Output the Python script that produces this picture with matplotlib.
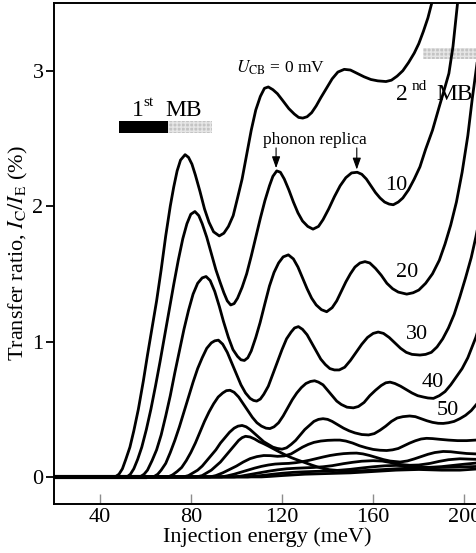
import numpy as np
import matplotlib
matplotlib.use('Agg')
import matplotlib.pyplot as plt

plt.rcParams['font.family'] = ['Liberation Serif', 'DejaVu Serif']
plt.rcParams['mathtext.fontset'] = 'stix'

# injection energy (meV) / transfer ratio (%), one pair per U_CB
e_u0 = [20, 46.8, 48.5, 50, 51.5, 53.3, 55, 57, 59.2, 61, 63, 65, 67, 69, 71, 72.5, 74, 75.5, 77.5,
        79, 80.5, 82, 84, 86, 88, 90, 92.5, 94.5, 96.5, 98.6, 100.5, 102.5, 104.5, 106.5, 108.5,
        110.5, 112.3, 114, 116, 118, 120.3, 123, 125.4, 127.3, 129.1, 131, 133, 135, 137, 139.5,
        142, 144.5, 147.3, 150, 153, 156, 159, 162, 165.6, 168, 170.5, 173, 175.5, 178, 180, 182,
        184, 186, 187.5]
t_u0 = [0, 0, 0.02, 0.06, 0.13, 0.22, 0.34, 0.5, 0.71, 0.9, 1.1, 1.3, 1.53, 1.78, 2.0, 2.14, 2.26, 2.34, 2.38,
        2.36, 2.31, 2.23, 2.11, 1.98, 1.88, 1.81, 1.78, 1.8, 1.85, 1.93, 2.06, 2.2, 2.38, 2.56, 2.71,
        2.81, 2.87, 2.88, 2.86, 2.83, 2.78, 2.72, 2.68, 2.655, 2.65, 2.66, 2.69, 2.74, 2.8, 2.87,
        2.94, 2.99, 3.01, 3.005, 2.98, 2.955, 2.935, 2.925, 2.92, 2.93, 2.96, 3.0, 3.06, 3.13, 3.2, 3.29,
        3.39, 3.52, 3.62]

e_u10 = [20, 52, 53.5, 55, 56.7, 58.5, 60.5, 62.5, 64.5, 66.5, 68.5, 70.5, 72.5, 74.5, 76.5, 78.3, 80,
         81.8, 83.5, 85, 87, 89, 91, 92.8, 94.5, 96, 97.5, 99, 100.5, 102.5, 104.5, 106.5, 108.5,
         110.5, 112.5, 114.5, 116, 117.7, 119.3, 121, 123, 125, 127, 129, 131.3, 133.6, 136, 138,
         140.5, 143, 145.5, 148, 150.5, 153, 155, 157, 159, 161, 163, 165, 167, 168.8, 171, 173,
         175.5, 178, 180.5, 183, 186, 188.9, 191, 193.2, 195, 197, 198]
t_u10 = [0, 0, 0.02, 0.06, 0.13, 0.22, 0.35, 0.5, 0.67, 0.85, 1.04, 1.23, 1.42, 1.6, 1.76, 1.87, 1.94,
         1.96, 1.93, 1.87, 1.77, 1.65, 1.53, 1.44, 1.36, 1.3, 1.27, 1.28, 1.32, 1.4, 1.5, 1.63, 1.77,
         1.91, 2.04, 2.15, 2.22, 2.26, 2.25, 2.2, 2.12, 2.03, 1.95, 1.89, 1.85, 1.83, 1.85, 1.9,
         1.98, 2.07, 2.15, 2.21, 2.245, 2.25, 2.235, 2.2, 2.15, 2.1, 2.06, 2.03, 2.015, 2.01, 2.03, 2.06,
         2.12, 2.2, 2.29, 2.42, 2.56, 2.73, 2.85, 2.98, 3.18, 3.5, 3.62]

e_u20 = [20, 57.7, 59.5, 61, 63, 65, 67, 69, 71, 73, 75, 77, 79, 81, 83, 85, 86.7, 88.5, 90.5, 92.5,
         94.3, 96.5, 98.5, 100.5, 102, 103.5, 105, 106.5, 108.5, 110.4, 112.5, 114.5, 116.5, 118.5,
         120.5, 122.8, 125, 127, 129, 131, 133, 135, 137.3, 139.6, 142, 144, 146, 148, 150, 152,
         154.2, 156.4, 158.5, 161, 163.5, 166, 168.5, 171, 174.7, 177.5, 180, 183, 186, 189, 191.5,
         194, 196.5, 199, 201.5, 203.5, 205.5, 208, 210]
t_u20 = [0, 0, 0.02, 0.05, 0.12, 0.2, 0.31, 0.45, 0.6, 0.77, 0.93, 1.09, 1.23, 1.35, 1.43, 1.47, 1.48, 1.45, 1.37, 1.26,
         1.15, 1.03, 0.94, 0.89, 0.865, 0.86, 0.88, 0.93, 1.03, 1.14, 1.28, 1.41, 1.51, 1.58,
         1.625, 1.64, 1.61, 1.55, 1.47, 1.39, 1.32, 1.27, 1.235, 1.22, 1.25, 1.3, 1.37, 1.44, 1.5, 1.55,
         1.58, 1.59, 1.58, 1.54, 1.49, 1.43, 1.39, 1.365, 1.35, 1.36, 1.38, 1.43, 1.5, 1.6, 1.72,
         1.86, 2.03, 2.25, 2.52, 2.8, 3.05, 3.4, 3.7]

e_u30 = [20, 63.6, 65.5, 67, 69, 71, 73, 75, 77, 79, 81, 83, 85, 87, 89, 90.5, 92.1, 94, 96, 98, 100,
         102, 104, 106, 107.5, 108.9, 110.5, 112, 114, 116, 118, 120, 122, 124, 125.5, 127.2, 129,
         131, 133, 135, 137, 139, 141, 143, 145.1, 147.5, 150, 152.5, 155, 157.5, 160, 162.2, 164.5,
         167, 169.5, 172, 174.5, 177, 180.5, 183, 185.5, 188, 190.5, 193, 195.5, 198, 200.5, 203,
         205, 207.5, 210]
t_u30 = [0, 0, 0.02, 0.05, 0.1, 0.18, 0.27, 0.37, 0.48, 0.59, 0.7, 0.8, 0.88, 0.95, 0.99, 1.005, 1.01, 0.98, 0.92, 0.84, 0.76,
         0.68, 0.62, 0.58, 0.565, 0.56, 0.575, 0.61, 0.67, 0.76, 0.85, 0.94, 1.02, 1.07, 1.1, 1.11, 1.09,
         1.05, 0.99, 0.93, 0.87, 0.83, 0.8, 0.79, 0.79, 0.81, 0.86, 0.92, 0.98, 1.03, 1.06, 1.07, 1.06,
         1.03, 0.99, 0.95, 0.92, 0.905, 0.9, 0.905, 0.92, 0.96, 1.02, 1.1, 1.2, 1.33, 1.47, 1.62,
         1.77, 1.98, 2.2]

e_u40 = [20, 70, 72, 74, 76, 78, 80, 82, 84, 86, 88, 90, 92, 94, 95.6, 97.2, 99, 101, 103, 105, 107,
         109, 111, 113, 114.7, 116.5, 118.5, 120.5, 122.5, 124.5, 126.5, 128.5, 130.5, 132.5, 134.3,
         136, 138, 140, 142, 144, 146, 148.5, 151.3, 153.5, 156, 158.5, 161, 163.5, 165.5, 167.4,
         169.5, 172, 174.5, 177, 179.5, 182, 184, 186.4, 189, 191.5, 194, 196.5, 199, 201.5, 205, 210]
t_u40 = [0, 0, 0.015, 0.04, 0.07, 0.12, 0.18, 0.25, 0.33, 0.41, 0.48, 0.54, 0.59, 0.62, 0.637, 0.64, 0.625, 0.59, 0.54, 0.49, 0.44,
         0.4, 0.375, 0.36, 0.357, 0.37, 0.4, 0.45, 0.51, 0.57, 0.62, 0.66, 0.69, 0.705, 0.71,
         0.7, 0.68, 0.64, 0.6, 0.56, 0.535, 0.515, 0.51, 0.52, 0.55, 0.6, 0.64, 0.675, 0.695, 0.7,
         0.69, 0.67, 0.645, 0.62, 0.6, 0.59, 0.583, 0.58, 0.6, 0.63, 0.68, 0.74, 0.8, 0.88, 1.03, 1.3]

e_u50 = [20, 76.7, 79, 81, 83, 85, 87, 89, 91, 93, 95, 97, 99, 100.7, 102.5, 104.3, 106, 108, 110,
         112, 114, 116, 118, 120, 122, 124, 126, 128, 130, 132, 134, 136, 138, 140, 142, 144.5, 147,
         149.5, 152, 155, 158, 160.5, 163, 165.5, 168, 170.5, 173, 176, 178.5, 181, 183.5, 186,
         188.5, 190.7, 193, 195.5, 198, 200.5, 203, 205, 210]
t_u50 = [0, 0, 0.01, 0.03, 0.05, 0.08, 0.12, 0.16, 0.2, 0.25, 0.29, 0.33, 0.36, 0.375, 0.38, 0.37, 0.35, 0.32, 0.29,
         0.26, 0.24, 0.22, 0.21, 0.205, 0.215, 0.24, 0.27, 0.31, 0.35, 0.38, 0.41, 0.425, 0.43, 0.425, 0.41, 0.385, 0.36,
         0.34, 0.325, 0.313, 0.31, 0.32, 0.345, 0.375, 0.41, 0.435, 0.445, 0.45, 0.445, 0.43, 0.415, 0.403,
         0.396, 0.395, 0.4, 0.41, 0.43, 0.455, 0.49, 0.53, 0.63]

e_u60 = [20, 82.5, 85, 87, 89, 91, 93, 95, 97, 99, 101, 102.5, 104, 106, 108, 110, 112, 114, 116,
         118, 120, 122, 124, 126, 128, 130.5, 133, 135.5, 138, 141, 145, 150, 155, 160, 165, 170,
         175, 180, 185, 190, 195, 200, 210]
t_u60 = [0, 0, 0.01, 0.03, 0.05, 0.08, 0.11, 0.15, 0.19, 0.23, 0.27, 0.29, 0.3, 0.295, 0.28, 0.26, 0.245, 0.228, 0.21,
         0.192, 0.175, 0.158, 0.143, 0.13, 0.118, 0.103, 0.088, 0.074, 0.062, 0.053, 0.047, 0.045, 0.046, 0.05, 0.055, 0.06,
         0.064, 0.066, 0.068, 0.07, 0.072, 0.074, 0.08]

e_u70 = [20, 88.4, 91, 94, 97, 100, 103, 106, 109, 112, 115, 118, 121, 124, 126.5, 129, 131.5, 134,
         137, 140, 143, 145.4, 148, 151, 154, 157, 160, 163, 165.9, 168.5, 171, 173.5, 176, 178.5,
         181, 183.4, 186, 189, 193, 197, 201, 205, 210]
t_u70 = [0, 0, 0.01, 0.03, 0.055, 0.08, 0.11, 0.135, 0.15, 0.158, 0.157, 0.152, 0.155, 0.17, 0.195, 0.22, 0.24, 0.255,
         0.265, 0.27, 0.272, 0.272, 0.265, 0.25, 0.23, 0.215, 0.203, 0.197, 0.195, 0.2, 0.21, 0.23, 0.25, 0.267,
         0.28, 0.285, 0.283, 0.278, 0.272, 0.268, 0.268, 0.272, 0.28]

e_u80 = [20, 93.5, 96, 99, 102, 105, 108, 111, 114, 117, 120, 123, 126, 129, 132, 135, 138, 141, 144,
         147, 150, 152.7, 155.5, 158.5, 161.5, 164.5, 167.5, 171.8, 175, 178, 181, 184, 187, 190.7,
         194, 197, 201, 205, 210]
t_u80 = [0, 0, 0.008, 0.02, 0.035, 0.05, 0.065, 0.078, 0.088, 0.095, 0.098, 0.1, 0.105, 0.113, 0.123, 0.135, 0.147, 0.158, 0.166,
         0.172, 0.175, 0.176, 0.17, 0.158, 0.143, 0.128, 0.117, 0.11, 0.118, 0.133, 0.15, 0.167, 0.18, 0.188,
         0.186, 0.18, 0.173, 0.17, 0.17]

e_u90 = [20, 99, 102, 106, 110, 114, 118, 122, 126, 130, 134, 138, 142, 147, 151, 155, 160, 164, 168,
         172, 176, 180, 185, 189, 193, 198, 203, 210]
t_u90 = [0, 0, 0.006, 0.018, 0.03, 0.042, 0.052, 0.06, 0.064, 0.067, 0.07, 0.075, 0.083, 0.098, 0.108, 0.116, 0.12, 0.117, 0.105,
         0.092, 0.086, 0.088, 0.1, 0.115, 0.127, 0.134, 0.131, 0.128]

e_u100 = [20, 105, 108, 112, 116, 120, 125, 130, 135, 140, 145, 150, 155, 160, 165, 170, 175, 180,
          185, 190, 195, 200, 205, 210]
t_u100 = [0, 0, 0.005, 0.012, 0.02, 0.027, 0.034, 0.038, 0.041, 0.044, 0.049, 0.056, 0.066, 0.075, 0.082, 0.085, 0.081, 0.073,
          0.071, 0.076, 0.085, 0.094, 0.102, 0.108]

e_u110 = [20, 111, 115, 120, 125, 130, 140, 150, 160, 170, 180, 190, 198, 205, 210]
t_u110 = [0, 0, 0.004, 0.01, 0.015, 0.02, 0.025, 0.03, 0.04, 0.05, 0.055, 0.05, 0.05, 0.058, 0.065]

curves = [(e_u0, t_u0), (e_u10, t_u10), (e_u20, t_u20), (e_u30, t_u30), (e_u40, t_u40),
          (e_u50, t_u50), (e_u60, t_u60), (e_u70, t_u70), (e_u80, t_u80), (e_u90, t_u90),
          (e_u100, t_u100), (e_u110, t_u110)]

# curve labels (U_CB in mV) and where they sit
curve_labels = ['10', '20', '30', '40', '50']
label_x = [170.3, 175.0, 179.2, 186.0, 192.8]
label_y = [2.15, 1.51, 1.05, 0.70, 0.49]

# miniband bars (energy ranges, meV)
mb1_solid = (48.6, 70.1)
mb1_shaded = (70.1, 89.2)
mb2_shaded = (181.7, 230.0)


fig = plt.figure(figsize=(4.76, 5.53), dpi=100)
ax = fig.add_axes([54/476, 49/553, 456/476, 501/553])

ax.broken_barh([(mb1_solid[0], mb1_solid[1]-mb1_solid[0])], (2.54, 0.085),
               facecolors='black', zorder=1)
ax.broken_barh([(mb1_shaded[0], mb1_shaded[1]-mb1_shaded[0])], (2.54, 0.085),
               facecolors='#c4c4c4', edgecolor='#e6e6e6', hatch='++++', lw=0, zorder=1)
ax.broken_barh([(mb2_shaded[0], mb2_shaded[1]-mb2_shaded[0])], (3.085, 0.085),
               facecolors='#c4c4c4', edgecolor='#e6e6e6', hatch='++++', lw=0, zorder=1)

ax.plot([20, 60], [0, 0], '-', color='k', lw=3.0, zorder=2)
for e, t in curves:
    ax.plot(e, t, '-', color='k', lw=2.0, solid_joinstyle='round', zorder=2)

for s, x, y in zip(curve_labels, label_x, label_y):
    ax.text(x, y, s, fontsize=16, ha='center', va='center')

ax.text(54.0, 2.667, '1', fontsize=17, ha='left', va='baseline')
ax.text(59.3, 2.74, 'st', fontsize=11, ha='left', va='baseline')
ax.text(69.0, 2.667, 'MB', fontsize=17, ha='left', va='baseline')
ax.text(170.0, 2.78, '2', fontsize=17, ha='left', va='baseline')
ax.text(177.0, 2.86, 'nd', fontsize=11, ha='left', va='baseline')
ax.text(187.5, 2.78, 'MB', fontsize=17, ha='left', va='baseline')

ax.text(100.0, 2.985, r'$U_{\mathrm{CB}}$ = 0 mV', fontsize=12.5, ha='left', va='baseline')
ax.text(134.5, 2.46, 'phonon replica', fontsize=12.5, ha='center', va='baseline')
for xa, ya in [(117.4, 2.28), (152.8, 2.27)]:
    ax.annotate('', xy=(xa, ya), xytext=(xa, 2.43),
                arrowprops=dict(arrowstyle='-|>,head_length=0.7,head_width=0.25',
                                color='k', lw=0.8, shrinkA=0, shrinkB=0))

ax.set_xlim(20, 220)
ax.set_ylim(-0.2, 3.5)
ax.set_xticks([40, 80, 120, 160, 200])
ax.set_yticks([0, 1, 2, 3])
ax.tick_params(axis='x', direction='in', length=7, width=1.0, color='0.55', labelsize=16, pad=3)
ax.tick_params(axis='y', direction='out', length=6, width=1.3, labelsize=16, pad=1.5)
for sp in ax.spines.values():
    sp.set_linewidth(1.4)

ax.set_xlabel('Injection energy (meV)', fontsize=16)
ax.xaxis.set_label_coords(0.467, -0.047)
ax.set_ylabel(r'Transfer ratio, $I_{\mathrm{C}}/I_{\mathrm{E}}$ (%)', fontsize=16)
ax.yaxis.set_label_coords(-0.053, 0.5)

fig.savefig('out.png', dpi=100)
